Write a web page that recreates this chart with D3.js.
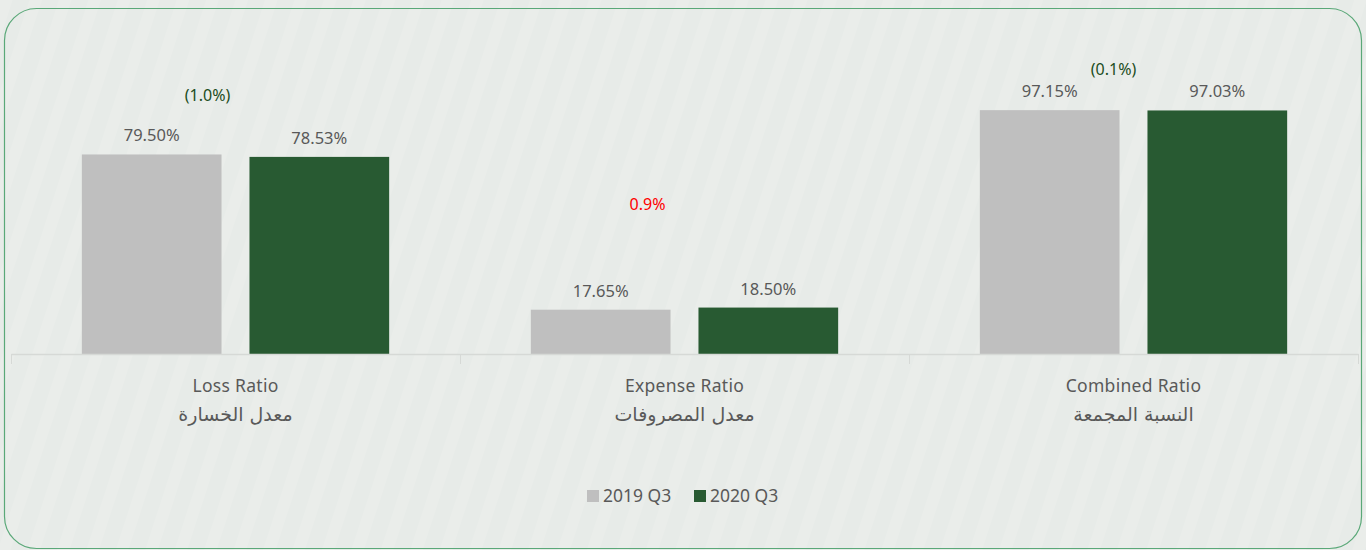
<!DOCTYPE html>
<html>
<head>
<meta charset="utf-8">
<script src="https://cdn.jsdelivr.net/npm/d3@7"></script>
<style>
  html, body { margin: 0; padding: 0; background: #e8ece9; }
  svg { display: block; }
</style>
</head>
<body>
<div id="chart"></div>
<script>
// data
var categories = ["Loss Ratio", "Expense Ratio", "Combined Ratio"];
var categoriesAr = ["معدل الخسارة", "معدل المصروفات", "النسبة المجمعة"];
var seriesNames = ["2019 Q3", "2020 Q3"];
var values2019 = [79.50, 17.65, 97.15];
var values2020 = [78.53, 18.50, 97.03];
var changeLabels = ["(1.0%)", "0.9%", "(0.1%)"];
var changeUp = [false, true, false];

var svgWidth = 1366, svgHeight = 550;
var colors = ["#bfbfbf", "#285a32"];
var font = "'Noto Sans', 'DejaVu Sans', sans-serif";

var svg = d3.select("#chart").append("svg")
  .attr("width", svgWidth)
  .attr("height", svgHeight);

// faint diagonal stripes in background
var defs = svg.append("defs");
var pat = defs.append("pattern")
  .attr("id", "stripes")
  .attr("patternUnits", "userSpaceOnUse")
  .attr("width", 28).attr("height", 28)
  .attr("patternTransform", "rotate(18)");
pat.append("rect").attr("width", 28).attr("height", 28).attr("fill", "#e7ebe8");
pat.append("rect").attr("width", 12).attr("height", 28).attr("fill", "#eaedea");

svg.append("rect")
  .attr("width", svgWidth).attr("height", svgHeight)
  .attr("fill", "url(#stripes)");

// frame
svg.append("rect")
  .attr("x", 4.5).attr("y", 8.5)
  .attr("width", 1357).attr("height", 540)
  .attr("rx", 32).attr("ry", 32)
  .attr("fill", "none")
  .attr("stroke", "#5aa878")
  .attr("stroke-width", 1.2);

var baseY = 354;

// scales
var x0 = d3.scaleBand()
  .domain(categories)
  .range([11, 1358])
  .paddingInner(0).paddingOuter(0);

var x1 = d3.scaleBand()
  .domain(seriesNames)
  .range([0, x0.bandwidth()])
  .paddingInner(0.1667)
  .paddingOuter(0.4226);

var y = d3.scaleLinear()
  .domain([0, 100])
  .range([baseY, 103]);

var rows = categories.map(function(c, i) {
  return { cat: c, ar: categoriesAr[i], vals: [values2019[i], values2020[i]],
           change: changeLabels[i], up: changeUp[i] };
});

// bars
var groups = svg.selectAll(".cat")
  .data(rows)
  .enter()
  .append("g")
  .attr("class", "cat")
  .attr("transform", d => `translate(${x0(d.cat)},0)`);

groups.selectAll("rect")
  .data(d => d.vals.map((v, j) => ({ name: seriesNames[j], v: v, j: j })))
  .enter()
  .append("rect")
  .attr("x", d => x1(d.name))
  .attr("y", d => y(d.v))
  .attr("width", x1.bandwidth())
  .attr("height", d => baseY - y(d.v))
  .attr("fill", d => colors[d.j]);

// value labels
groups.selectAll(".val")
  .data(d => d.vals.map((v, j) => ({ name: seriesNames[j], v: v })))
  .enter()
  .append("text")
  .attr("class", "val")
  .attr("x", d => x1(d.name) + x1.bandwidth() / 2)
  .attr("y", d => y(d.v) - 13)
  .attr("text-anchor", "middle")
  .attr("font-family", font)
  .attr("font-size", "16.5px")
  .attr("fill", "#595959")
  .text(d => d.v.toFixed(2) + "%");

// change annotations (offset from band centre / taller bar)
var noteOffsets = [[-28, -53], [-37, -98], [-20, -35]];
groups.append("text")
  .attr("x", (d, i) => x0.bandwidth() / 2 + noteOffsets[i][0])
  .attr("y", (d, i) => y(d3.max(d.vals)) + noteOffsets[i][1])
  .attr("text-anchor", "middle")
  .attr("font-family", font)
  .attr("font-size", "16px")
  .attr("fill", d => d.up ? "#ff0000" : "#1d4d22")
  .text(d => d.change);

// axis
var axis = d3.axisBottom(x0).tickSize(0).tickFormat("");
var axisG = svg.append("g")
  .attr("transform", `translate(0,${baseY})`)
  .call(axis);
axisG.select(".domain").attr("stroke", "#d6d9d6").attr("stroke-width", 1.5);

// category separators
var edges = categories.map(c => x0(c)).concat([x0.range()[1]]);
svg.selectAll(".sep")
  .data(edges)
  .enter()
  .append("line")
  .attr("x1", d => d + 0.5).attr("x2", d => d + 0.5)
  .attr("y1", baseY).attr("y2", baseY + 10)
  .attr("stroke", "#d6d9d6");

// category labels
var labels = svg.selectAll(".lab")
  .data(rows)
  .enter()
  .append("g")
  .attr("transform", d => `translate(${x0(d.cat) + x0.bandwidth() / 2},0)`);

labels.append("text")
  .attr("y", 392)
  .attr("text-anchor", "middle")
  .attr("font-family", font)
  .attr("font-size", "17.5px")
  .attr("letter-spacing", "0.3px")
  .attr("fill", "#595959")
  .text(d => d.cat);

labels.append("text")
  .attr("y", 421)
  .attr("text-anchor", "middle")
  .attr("direction", "rtl")
  .attr("font-family", "'DejaVu Sans', 'Noto Sans', sans-serif")
  .attr("font-size", "19px")
  .attr("fill", "#595959")
  .text(d => d.ar);

// legend
var legend = svg.append("g").attr("transform", "translate(587,489)");
var legX = [0, 107];
seriesNames.forEach(function(n, i) {
  var g = legend.append("g").attr("transform", `translate(${legX[i]},0)`);
  g.append("rect").attr("width", 12).attr("height", 12).attr("y", 1).attr("fill", colors[i]);
  g.append("text")
    .attr("x", 16).attr("y", 13)
    .attr("font-family", font)
    .attr("font-size", "17.5px")
    .attr("fill", "#595959")
    .text(n);
});
</script>
</body>
</html>
